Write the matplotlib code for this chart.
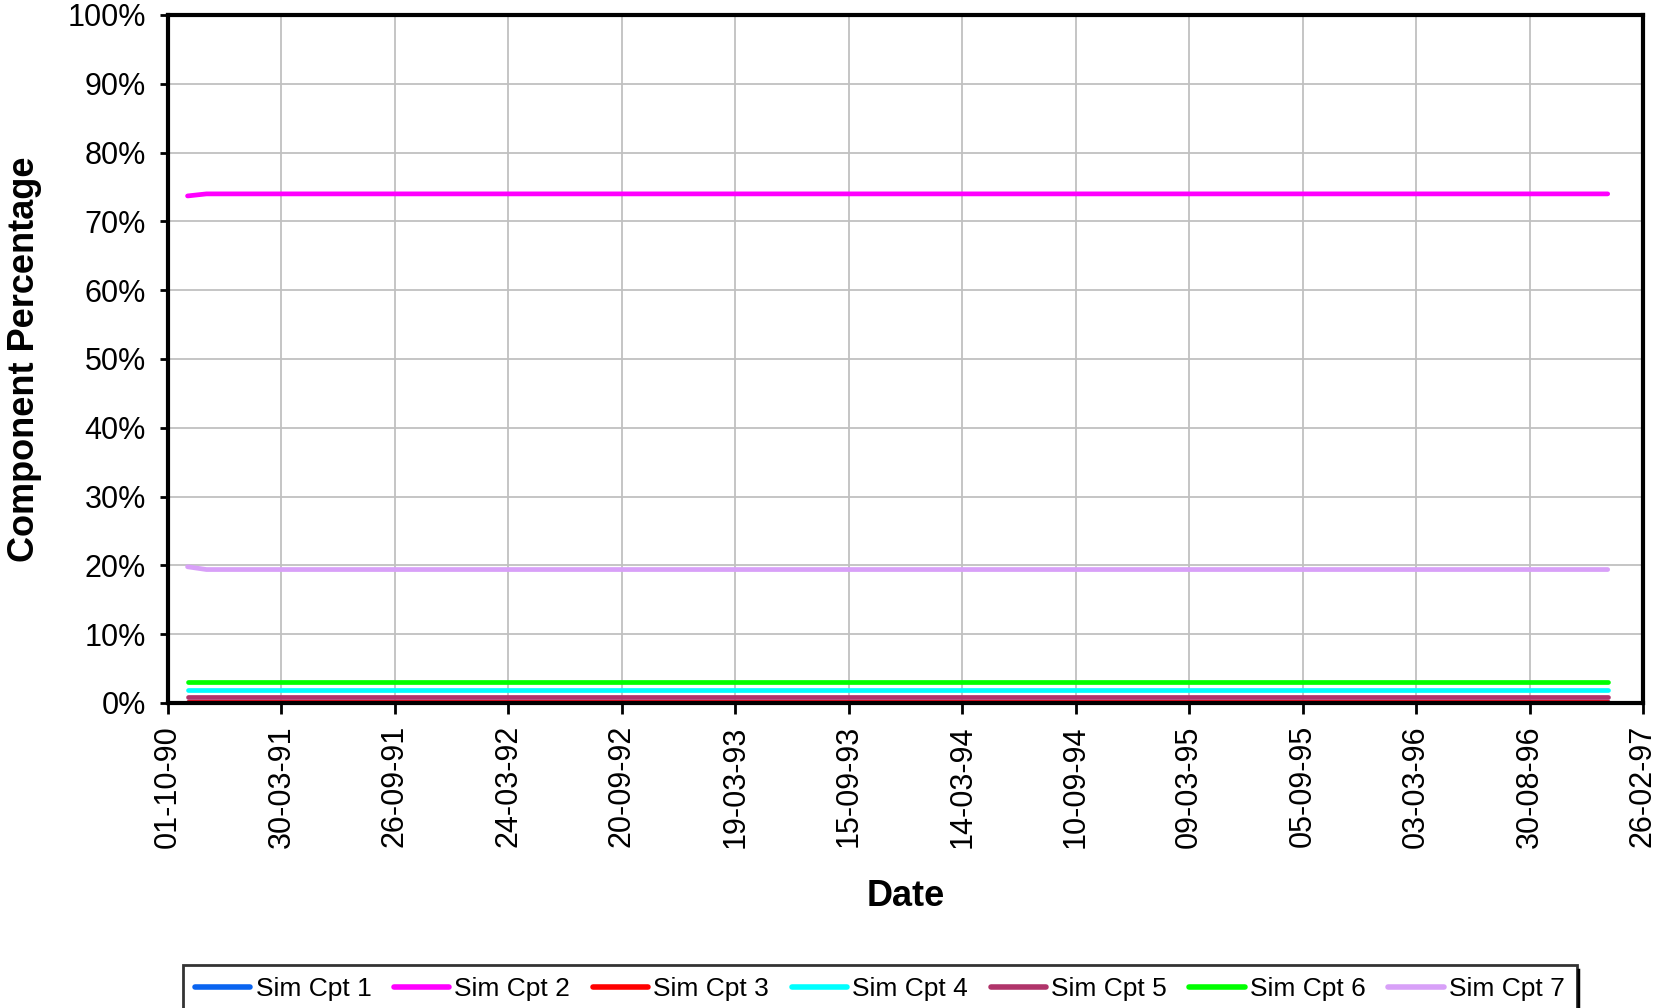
import matplotlib
matplotlib.use("Agg")
import matplotlib.pyplot as plt
import matplotlib.dates as mdates
from matplotlib.ticker import FixedLocator, FuncFormatter
from matplotlib.lines import Line2D
import pandas as pd
import datetime as dt

plt.rcParams['font.family'] = ['Liberation Sans', 'DejaVu Sans']

# ---- data ----
dates = pd.date_range('1990-11-01', '1997-01-01', freq='MS')
n = len(dates)
series_names = ["Sim Cpt 1", "Sim Cpt 2", "Sim Cpt 3", "Sim Cpt 4", "Sim Cpt 5", "Sim Cpt 6", "Sim Cpt 7"]
cpt1 = [0.1] * n
cpt2 = [73.7] + [74.0] * (n - 1)
cpt3 = [0.1] * n
cpt4 = [1.9] * n
cpt5 = [0.8] * n
cpt6 = [3.1] * n
cpt7 = [19.8] + [19.4] * (n - 1)
series_values = [cpt1, cpt2, cpt3, cpt4, cpt5, cpt6, cpt7]
colors = ["#0a64f0", "#ff00ff", "#ff0000", "#00ffff", "#b0346a", "#00ff00", "#d8a0f8"]

x_start = dt.datetime(1990, 10, 1)
x_step_days = 180
n_xticks = 14
xticks = [x_start + dt.timedelta(days=x_step_days * i) for i in range(n_xticks)]
yticks = list(range(0, 101, 10))

# ---- figure ----
W, H = 1667, 1008
fig = plt.figure(figsize=(W / 100, H / 100), dpi=100)
ax = fig.add_axes([168 / W, 1 - 703 / H, (1643 - 168) / W, (703 - 15) / H])

lines = []
for name, vals, c in zip(series_names, series_values, colors):
    ln, = ax.plot(dates, vals, color=c, lw=3.4, label=name, solid_capstyle='round')
    lines.append(ln)

ax.set_xlim(xticks[0], xticks[-1])
ax.set_ylim(0, 100)
ax.xaxis.set_major_locator(FixedLocator(mdates.date2num(xticks)))
ax.xaxis.set_major_formatter(mdates.DateFormatter('%d-%m-%y'))
ax.yaxis.set_major_locator(FixedLocator(yticks))
ax.yaxis.set_major_formatter(FuncFormatter(lambda v, p: f"{int(round(v))}%"))

ax.grid(True, color='#c0c0c0', lw=1.3)
ax.set_axisbelow(True)
for s in ax.spines.values():
    s.set_linewidth(3)
    s.set_color('black')

ax.tick_params(axis='x', direction='out', length=8, width=2, labelsize=22, pad=8, labelrotation=90)
ax.tick_params(axis='y', direction='out', length=6, width=2, labelsize=22, pad=10)

ax.set_xlabel('Date', fontsize=26, fontweight='bold')
ax.set_ylabel('Component Percentage', fontsize=26, fontweight='bold')
ax.yaxis.set_label_coords(25 / (1643 - 168) - 168 / (1643 - 168), 0.5)
ax.xaxis.set_label_coords(0.5, -(896 - 703) / (703 - 15))
ax.yaxis.label.set_va('center')
ax.xaxis.label.set_va('center')

leg = fig.legend(handles=lines, loc='upper left', bbox_to_anchor=(183 / W, 1 - 965 / H),
                 ncol=7, fontsize=19, frameon=True, fancybox=False, shadow=False,
                 handlelength=2.1, handletextpad=0.2, columnspacing=0.85,
                 borderpad=0.45, borderaxespad=0)
leg.get_frame().set_edgecolor('black')
leg.get_frame().set_linewidth(2)
for lh in leg.get_lines():
    lh.set_linewidth(4)

# remnant frame edge at bottom right of the reference
fig.add_artist(Line2D([1578 / W, 1578 / W], [0, 1 - 970 / H], color='black', lw=2.5,
                      transform=fig.transFigure))

fig.savefig('out.png', dpi=100)
